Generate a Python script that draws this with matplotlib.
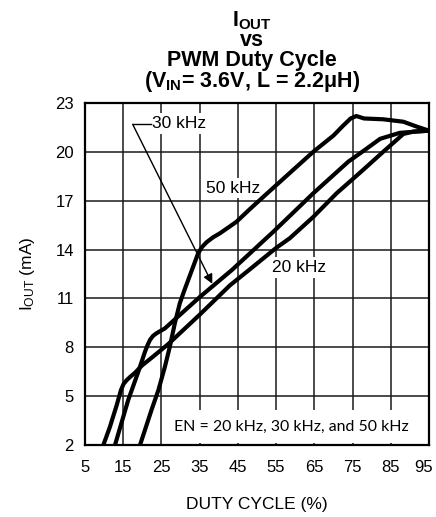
import matplotlib
matplotlib.use("Agg")
import matplotlib.pyplot as plt
import matplotlib.transforms as mtransforms

plt.rcParams['font.family'] = ['Liberation Sans', 'DejaVu Sans']
plt.rcParams['mathtext.fontset'] = 'custom'
plt.rcParams['mathtext.rm'] = 'Liberation Sans'
plt.rcParams['mathtext.it'] = 'Liberation Sans:italic'
plt.rcParams['mathtext.bf'] = 'Liberation Sans:bold'

# duty cycle (%) vs output current (mA)
duty_20k = [9.8, 11.5, 13.3, 14.4, 15.1, 15.9, 17.0, 18.1, 20.0, 22.4, 26.8, 35.0, 42.9, 48.2,
            55.0, 58.6, 64.7, 70.8, 77.8, 83.0, 88.3, 91.0, 95.0]
iout_20k = [2.0, 3.1, 4.45, 5.37, 5.75, 5.98, 6.22, 6.44, 6.9, 7.35, 8.2, 10.0, 11.8, 12.8,
            14.1, 14.7, 16.0, 17.45, 18.9, 20.0, 21.1, 21.25, 21.3]

duty_30k = [12.85, 14.6, 16.3, 18.95, 20.7, 21.4, 22.0, 22.8, 23.7, 25.9, 28.5, 35.1, 43.4,
            54.3, 64.7, 73.9, 78.7, 82.2, 87.4, 95.0]
iout_30k = [2.0, 3.4, 4.76, 6.5, 7.73, 8.15, 8.45, 8.7, 8.86, 9.16, 9.71, 11.1, 12.74,
            15.1, 17.45, 19.4, 20.2, 20.8, 21.17, 21.3]

duty_50k = [19.4, 22.4, 24.2, 25.9, 27.2, 28.5, 29.8, 31.0, 33.3, 34.6, 35.6, 36.8, 38.5, 40.3,
            44.6, 48.2, 54.3, 64.7, 70.0, 72.5, 74.5, 76.0, 78.0, 83.0, 88.3, 91.8, 95.0]
iout_50k = [2.0, 4.15, 5.37, 6.8, 8.04, 9.47, 10.7, 11.5, 12.95, 13.77, 14.15, 14.45, 14.75, 15.0,
            15.7, 16.5, 17.8, 20.0, 21.0, 21.6, 22.05, 22.2, 22.05, 22.0, 21.85, 21.55, 21.3]

xticks = [5, 15, 25, 35, 45, 55, 65, 75, 85, 95]
yticks = [2, 5, 8, 11, 14, 17, 20, 23]

fig = plt.figure(figsize=(4.36, 5.17), dpi=100)
ax = fig.add_axes([85/436, 1-445/517, 344/436, 342/517])

for d, i in [(duty_20k, iout_20k), (duty_30k, iout_30k), (duty_50k, iout_50k)]:
    ax.plot(d, i, color='black', lw=3.0, solid_joinstyle='round',
            solid_capstyle='butt', zorder=3)

ax.set_xlim(5, 95)
ax.set_ylim(2, 23)
ax.set_xticks(xticks)
ax.set_yticks(yticks)
ax.grid(True, color='#1a1a1a', lw=1.1, zorder=0)
ax.tick_params(length=0, labelsize=12)
ax.tick_params(axis='x', pad=11)
ax.tick_params(axis='y', pad=8)
for s in ax.spines.values():
    s.set_linewidth(1.6)
    s.set_zorder(5)

# last x label sits against the edge of the picture
lbl = ax.get_xticklabels()[-1]
lbl.set_transform(lbl.get_transform() + mtransforms.ScaledTranslation(-5/100, 0, fig.dpi_scale_trans))

ax.set_xlabel('DUTY CYCLE (%)', fontsize=12.5, labelpad=16)
ax.set_ylabel(r'I$_{\mathrm{OUT}}$ (mA)', fontsize=12.5, labelpad=13)

box = dict(facecolor='white', edgecolor='none', pad=2)
ax.text(43.7, 17.78, '50 kHz', fontsize=12.5, ha='center', va='center', bbox=box, zorder=2)
ax.text(61.0, 12.9, '20 kHz', fontsize=12.5, ha='center', va='center', bbox=box, zorder=2)
ax.text(22.4, 21.75, '30 kHz', fontsize=12.5, ha='left', va='center', bbox=box, zorder=2)
ax.plot([17.48, 22.3], [21.69, 21.69], color='black', lw=1.0, zorder=4)
ax.annotate('', xy=(38.3, 11.9), xytext=(17.48, 21.69),
            arrowprops=dict(arrowstyle='-|>', color='black', lw=1.0,
                            mutation_scale=14, shrinkA=0, shrinkB=0), zorder=4)
ax.text(59.1, 3.12, 'EN = 20 kHz, 30 kHz, and 50 kHz', family='Lato', fontsize=11.4,
        ha='center', va='center', zorder=2,
        bbox=dict(facecolor='white', edgecolor='none', pad=7))

cx = 252/436
fig.text(cx, 1-26/517, r'I$_{\mathbf{OUT}}$', fontsize=15.5, weight='bold', ha='center', va='baseline')
fig.text(cx, 1-46/517, 'vs', fontsize=15.5, weight='bold', ha='center', va='baseline')
fig.text(cx, 1-66/517, 'PWM Duty Cycle', fontsize=15.5, weight='bold', ha='center', va='baseline')
fig.text(cx, 1-87/517, r'(V$_{\mathbf{IN}}$= 3.6V, L = 2.2μH)', fontsize=15.5, weight='bold',
         ha='center', va='baseline')

fig.savefig('out.png', dpi=100)
